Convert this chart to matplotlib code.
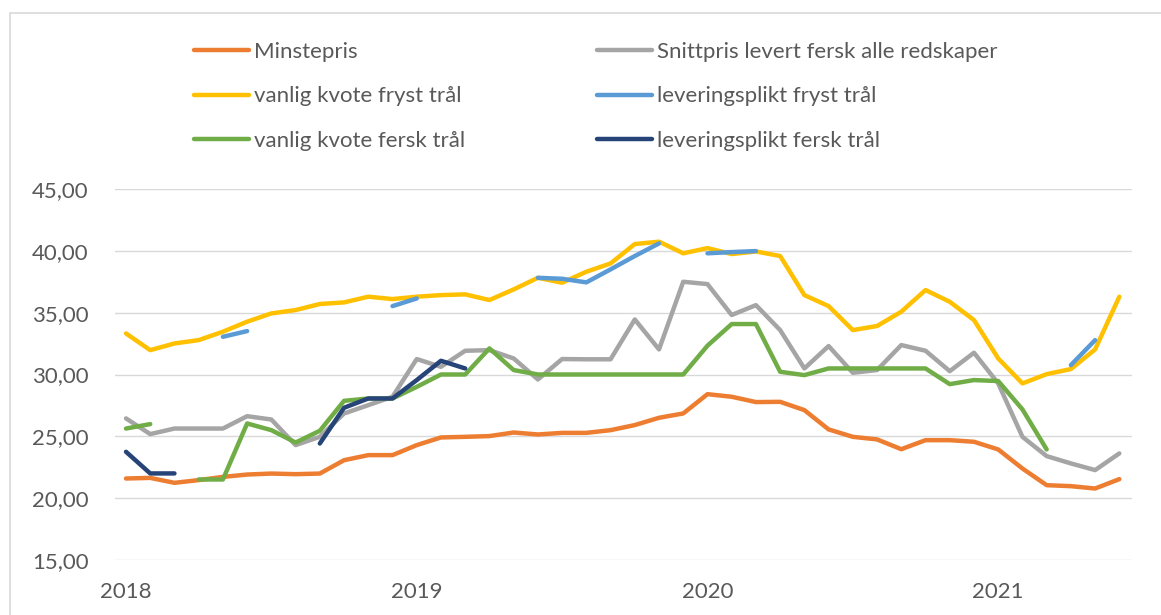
import numpy as np
import pandas as pd
import matplotlib
matplotlib.use("Agg")
import matplotlib.pyplot as plt
from matplotlib.patches import Rectangle

nan = np.nan

# months Jan 2018 .. Jun 2021
MONTHS = pd.date_range("2018-01-01", periods=42, freq="MS")

minstepris = [21.59, 21.64, 21.24, 21.46, 21.72, 21.91, 21.99, 21.94, 21.99, 23.07,
              23.48, 23.48, 24.29, 24.91, 24.96, 25.02, 25.31, 25.15, 25.28, 25.28,
              25.50, 25.91, 26.50, 26.85, 28.41, 28.20, 27.77, 27.79, 27.12, 25.56,
              24.96, 24.75, 23.96, 24.69, 24.69, 24.56, 23.94, 22.40, 21.05, 20.97,
              20.78, 21.54]

snittpris = [26.45, 25.18, 25.63, 25.63, 25.63, 26.63, 26.36, 24.29, 24.96, 26.85,
             27.52, 28.20, 31.25, 30.62, 31.92, 31.97, 31.30, 29.60, 31.25, 31.23,
             31.23, 34.45, 32.03, 37.50, 37.31, 34.81, 35.61, 33.59, 30.49, 32.30,
             30.14, 30.36, 32.38, 31.92, 30.27, 31.76, 29.28, 24.96, 23.40, 22.81,
             22.27, 23.62]

vanlig_fryst = [33.32, 31.97, 32.51, 32.78, 33.46, 34.27, 34.94, 35.21, 35.70, 35.83,
                36.29, 36.10, 36.29, 36.42, 36.48, 36.02, 36.88, 37.82, 37.42, 38.31,
                38.98, 40.55, 40.74, 39.80, 40.22, 39.74, 39.95, 39.58, 36.42, 35.53,
                33.59, 33.92, 35.08, 36.83, 35.88, 34.40, 31.30, 29.28, 30.03, 30.44,
                32.03, 36.29]

lev_fryst = [nan, nan, nan, nan, 33.05, 33.51, nan, nan, nan, nan,
             nan, 35.53, 36.15, nan, nan, nan, nan, 37.82, 37.74, 37.45,
             38.50, 39.58, 40.60, nan, 39.80, 39.90, 39.98, nan, nan, nan,
             nan, nan, nan, nan, nan, nan, nan, nan, nan, 30.76,
             32.78, nan]

vanlig_fersk = [25.63, 25.99, nan, 21.51, 21.51, 26.04, 25.50, 24.50, 25.45, 27.87,
                28.06, 28.06, 29.00, 30.00, 30.00, 32.11, 30.36, 30.00, 30.00, 30.00,
                30.00, 30.00, 30.00, 30.00, 32.33, 34.08, 34.08, 30.22, 29.95, 30.49,
                30.49, 30.49, 30.49, 30.49, 29.22, 29.55, 29.47, 27.18, 23.94, nan,
                nan, nan]

lev_fersk = [23.75, 22.00, 22.00, nan, nan, nan, nan, nan, 24.42, 27.31,
             28.06, 28.06, 29.55, 31.11, 30.49, nan, nan, nan, nan, nan,
             nan, nan, nan, nan, nan, nan, nan, nan, nan, nan,
             nan, nan, nan, nan, nan, nan, nan, nan, nan, nan,
             nan, nan]

SERIES = [
    ("Minstepris", minstepris, "#ED7D31"),
    ("Snittpris levert fersk alle redskaper", snittpris, "#A5A5A5"),
    ("vanlig kvote fryst trål", vanlig_fryst, "#FFC000"),
    ("leveringsplikt fryst trål", lev_fryst, "#5B9BD5"),
    ("vanlig kvote fersk trål", vanlig_fersk, "#70AD47"),
    ("leveringsplikt fersk trål", lev_fersk, "#264478"),
]

Y_TICKS = [15, 20, 25, 30, 35, 40, 45]

plt.rcParams["font.family"] = ["Lato", "DejaVu Sans"]
TXT = "#595959"

W, H = 1161, 615
fig = plt.figure(figsize=(W / 100, H / 100), dpi=100)
fig.patch.set_facecolor("white")

# outer chart border (open on right/bottom like the cropped screenshot)
fig.add_artist(Rectangle((10 / W, -0.1), 1.2, 1 - 13 / H + 0.1,
                         transform=fig.transFigure, fill=False,
                         edgecolor="#D9D9D9", linewidth=1.2))

ax = fig.add_axes([115 / W, 1 - 560 / H, (1131.7 - 115) / W, (560 - 189) / H])

x = np.arange(len(MONTHS))
lines = {}
for name, vals, col in SERIES:
    ln, = ax.plot(x, vals, color=col, linewidth=3.2, label=name,
                  solid_capstyle="round", solid_joinstyle="round")
    lines[name] = ln

ax.set_ylim(15, 45)
ax.set_xlim(-0.454, 41.51)
ax.set_yticks(Y_TICKS)
ax.set_yticklabels([f"{v:.2f}".replace(".", ",") for v in Y_TICKS])
jan = [i for i, m in enumerate(MONTHS) if m.month == 1]
ax.set_xticks(jan)
ax.set_xticklabels([str(MONTHS[i].year) for i in jan])
ax.tick_params(axis="y", length=0, pad=19, labelsize=16, labelcolor=TXT)
ax.tick_params(axis="x", length=0, pad=16, labelsize=16, labelcolor=TXT)
ax.grid(axis="y", color="#D9D9D9", linewidth=1.0)
ax.set_axisbelow(True)
for s in ax.spines.values():
    s.set_visible(False)

# legend: two columns placed separately
names = [s[0] for s in SERIES]
col1 = [names[0], names[2], names[4]]
col2 = [names[1], names[3], names[5]]
for cols, x0 in ((col1, 194), (col2, 597)):
    fig.legend([lines[n] for n in cols], cols, loc="center left",
               bbox_to_anchor=(x0 / W, 1 - 96.5 / H), frameon=False,
               borderpad=0, borderaxespad=0, fontsize=16,
               handlelength=55 / 22.2, handletextpad=0.22,
               labelspacing=1.11, labelcolor=TXT)

fig.savefig("out.png", dpi=100)
